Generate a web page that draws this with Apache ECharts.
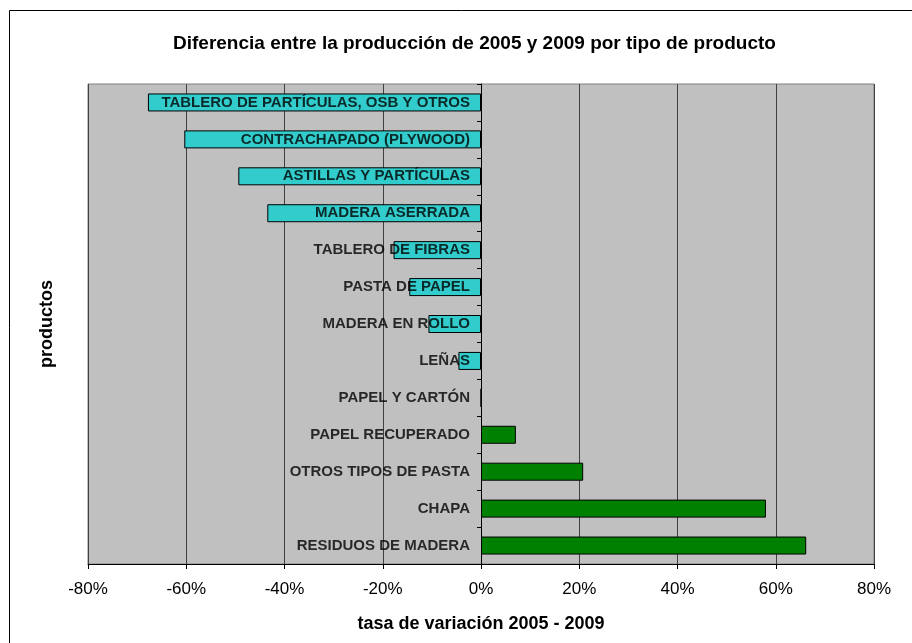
<!DOCTYPE html>
<html>
<head>
<meta charset="utf-8">
<script src="https://cdn.jsdelivr.net/npm/echarts@6/dist/echarts.min.js"></script>
<style>
  html, body { margin: 0; padding: 0; background: #fff; }
  #main { width: 912px; height: 643px; }
</style>
</head>
<body>
<div id="main"></div>
<script>
// productos, de arriba a abajo
var productos = [
  'TABLERO DE PARTÍCULAS, OSB Y OTROS',
  'CONTRACHAPADO (PLYWOOD)',
  'ASTILLAS Y PARTÍCULAS',
  'MADERA ASERRADA',
  'TABLERO DE FIBRAS',
  'PASTA DE PAPEL',
  'MADERA EN ROLLO',
  'LEÑAS',
  'PAPEL Y CARTÓN',
  'PAPEL RECUPERADO',
  'OTROS TIPOS DE PASTA',
  'CHAPA',
  'RESIDUOS DE MADERA'
];
// tasa de variacion 2005 - 2009 (%)
var variacion = [-67.8, -60.4, -49.4, -43.5, -17.8, -14.6, -10.7, -4.6, 0, 7.1, 20.8, 58.0, 66.2];
var xTicks = [-80, -60, -40, -20, 0, 20, 40, 60, 80];

var colorNeg = '#33CCCC', colorPos = '#008000';
var font = 'Arial, "Liberation Sans", sans-serif';

var chart = echarts.init(document.getElementById('main'));

// labels sit on the zero line, like the excel axis labels
var labelPoints = productos.map(function (p) { return [0, p]; });

var option = {
  animation: false,
  backgroundColor: '#ffffff',
  title: {
    text: 'Diferencia entre la producción de 2005 y 2009 por tipo de producto',
    left: 168,
    top: 29,
    textStyle: { fontFamily: font, fontSize: 19, fontWeight: 'bold', color: '#000' }
  },
  graphic: [
    {
      type: 'rect',
      shape: { x: 9.5, y: 10.5, width: 1000, height: 1000 },
      style: { fill: null, stroke: '#000', lineWidth: 1 },
      silent: true
    },
    {
      type: 'text',
      x: 47, y: 324,
      rotation: Math.PI / 2,
      style: {
        text: 'productos',
        font: 'bold 18px ' + font,
        fill: '#000',
        align: 'center',
        verticalAlign: 'middle'
      }
    }
  ],
  grid: {
    left: 88, right: 38, top: 84, bottom: 79,
    containLabel: false,
    outerBoundsMode: 'none',
    show: true,
    backgroundColor: '#C0C0C0',
    borderColor: '#808080',
    borderWidth: 1
  },
  xAxis: {
    type: 'value',
    min: xTicks[0],
    max: xTicks[xTicks.length - 1],
    interval: 20,
    name: 'tasa de variación 2005 - 2009',
    nameLocation: 'middle',
    nameGap: 51,
    nameTextStyle: { fontFamily: font, fontSize: 18, fontWeight: 'bold', color: '#000' },
    axisLine: { show: true, onZero: false, lineStyle: { color: '#000', width: 1 } },
    axisTick: { show: true, length: 5, lineStyle: { color: '#000' } },
    axisLabel: {
      margin: 17,
      fontFamily: font, fontSize: 17, color: '#000',
      formatter: '{value}%'
    },
    splitLine: { show: true, lineStyle: { color: '#404040', width: 1 } }
  },
  yAxis: {
    type: 'category',
    data: productos,
    inverse: true,
    z: 10,
    axisLine: { show: true, onZero: true, lineStyle: { color: '#000', width: 1 } },
    axisTick: { show: true, length: 4, lineStyle: { color: '#000' } },
    axisLabel: { show: false },
    splitLine: { show: false }
  },
  series: [
    {
      type: 'bar',
      data: variacion,
      barWidth: 18,
      z: 2,
      itemStyle: {
        color: function (p) { return p.value < 0 ? colorNeg : colorPos; },
        borderColor: '#000',
        borderWidth: 1
      }
    },
    {
      type: 'scatter',
      data: labelPoints,
      symbolSize: 0,
      z: 5,
      silent: true,
      label: {
        show: true,
        position: 'left',
        distance: 11,
        fontFamily: font, fontSize: 15, fontWeight: 'bold', color: '#000',
        formatter: function (p) { return p.value[1]; }
      }
    }
  ]
};

chart.setOption(option);
</script>
</body>
</html>
